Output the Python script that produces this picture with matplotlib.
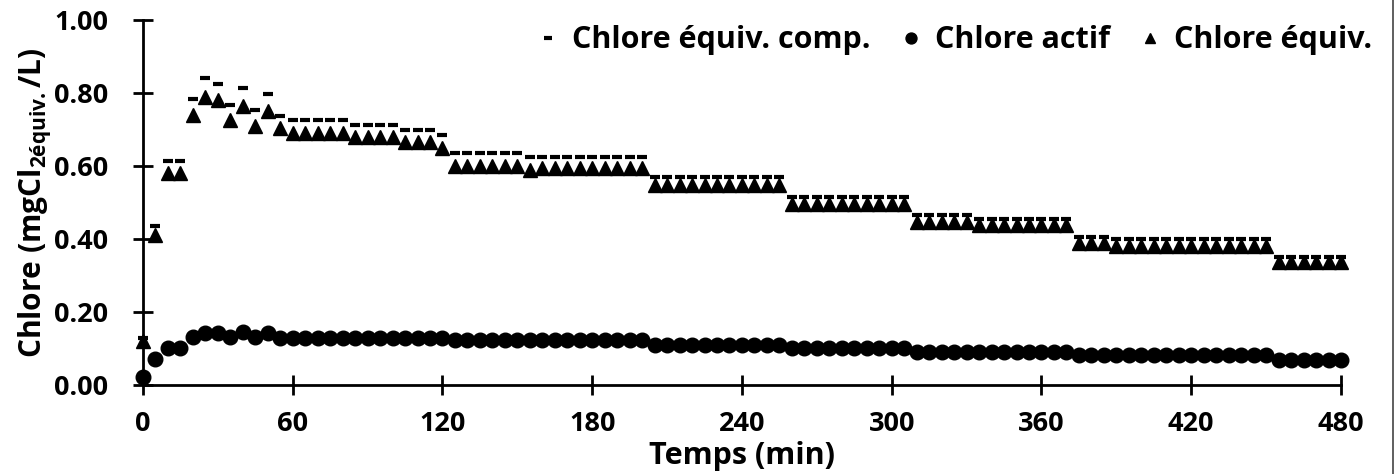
import matplotlib.pyplot as plt
from matplotlib.lines import Line2D

# temps de prélèvement (min)
temps = list(range(0, 481, 5))

chlore_equiv = [
    0.12, 0.41, 0.58, 0.58, 0.74, 0.79, 0.78, 0.725, 0.765, 0.71, 0.75, 0.705,
    0.69, 0.69, 0.69, 0.69, 0.69,
    0.68, 0.68, 0.68, 0.68,
    0.665, 0.665, 0.665,
    0.65,
    0.60, 0.60, 0.60, 0.60, 0.60, 0.60,
    0.59,
    0.595, 0.595, 0.595, 0.595, 0.595, 0.595, 0.595, 0.595, 0.595,
    0.548, 0.548, 0.548, 0.548, 0.548, 0.548, 0.548, 0.548, 0.548, 0.548, 0.548,
    0.497, 0.497, 0.497, 0.497, 0.497, 0.497, 0.497, 0.497, 0.497, 0.497,
    0.447, 0.447, 0.447, 0.447, 0.447,
    0.438, 0.438, 0.438, 0.438, 0.438, 0.438, 0.438, 0.438,
    0.39, 0.39, 0.39,
    0.382, 0.382, 0.382, 0.382, 0.382, 0.382, 0.382, 0.382, 0.382, 0.382, 0.382, 0.382, 0.382,
    0.338, 0.338, 0.338, 0.338, 0.338, 0.338,
]

chlore_equiv_comp = [
    0.13, 0.436, 0.614, 0.614, 0.783, 0.842, 0.826, 0.767, 0.813, 0.753, 0.796, 0.738,
    0.726, 0.726, 0.726, 0.726, 0.726,
    0.712, 0.712, 0.712, 0.712,
    0.699, 0.699, 0.699,
    0.686,
    0.635, 0.635, 0.635, 0.635, 0.635, 0.635,
    0.624,
    0.624, 0.624, 0.624, 0.624, 0.624, 0.624, 0.624, 0.624, 0.624,
    0.571, 0.571, 0.571, 0.571, 0.571, 0.571, 0.571, 0.571, 0.571, 0.571, 0.571,
    0.516, 0.516, 0.516, 0.516, 0.516, 0.516, 0.516, 0.516, 0.516, 0.516,
    0.466, 0.466, 0.466, 0.466, 0.466,
    0.456, 0.456, 0.456, 0.456, 0.456, 0.456, 0.456, 0.456,
    0.406, 0.406, 0.406,
    0.399, 0.399, 0.399, 0.399, 0.399, 0.399, 0.399, 0.399, 0.399, 0.399, 0.399, 0.399, 0.399,
    0.351, 0.351, 0.351, 0.351, 0.351, 0.351,
]

chlore_actif = [
    0.023, 0.07, 0.10, 0.10, 0.132, 0.142, 0.142, 0.132, 0.144, 0.132, 0.142,
    0.13, 0.13, 0.13, 0.13, 0.13, 0.13, 0.13, 0.13, 0.13, 0.13, 0.13, 0.13, 0.13, 0.13,
    0.122, 0.122, 0.122, 0.122, 0.122, 0.122, 0.122, 0.122,
    0.122, 0.122, 0.122, 0.122, 0.122, 0.122, 0.122, 0.122,
    0.11, 0.11, 0.11, 0.11, 0.11, 0.11, 0.11, 0.11, 0.11, 0.11, 0.11,
    0.10, 0.10, 0.10, 0.10, 0.10, 0.10, 0.10, 0.10, 0.10, 0.10,
    0.09, 0.09, 0.09, 0.09, 0.09, 0.09, 0.09, 0.09, 0.09, 0.09, 0.09, 0.09, 0.09,
    0.082, 0.082, 0.082, 0.082, 0.082, 0.082, 0.082, 0.082,
    0.082, 0.082, 0.082, 0.082, 0.082, 0.082, 0.082, 0.082,
    0.068, 0.068, 0.068, 0.068, 0.068, 0.068,
]

x_ticks = [0, 60, 120, 180, 240, 300, 360, 420, 480]
y_ticks = [0.0, 0.2, 0.4, 0.6, 0.8, 1.0]

plt.rcParams['font.family'] = ['Open Sans', 'DejaVu Sans']
plt.rcParams['font.weight'] = 'bold'
plt.rcParams['mathtext.fontset'] = 'custom'
plt.rcParams['mathtext.rm'] = 'Open Sans:bold'
plt.rcParams['mathtext.it'] = 'Open Sans:bold'
plt.rcParams['mathtext.bf'] = 'Open Sans:bold'

fig = plt.figure(figsize=(13.96, 4.74), dpi=100)
ax = fig.add_axes([0.1024, 0.1878, 0.8582, 0.77])

l_eq, = ax.plot(temps, chlore_equiv, ls='none', marker='^', ms=10.5, color='black',
                clip_on=False, zorder=3)
l_comp, = ax.plot(temps, chlore_equiv_comp, ls='none', marker='_', ms=7, mew=3,
                  color='black', clip_on=False, zorder=4)
l_act, = ax.plot(temps, chlore_actif, ls='none', marker='o', ms=10.5, color='black',
                 clip_on=False, zorder=3)

ax.set_xlim(0, 480)
ax.set_ylim(0, 1.0)
ax.set_xticks(x_ticks)
ax.set_yticks(y_ticks)
ax.set_yticklabels([f'{v:.2f}' for v in y_ticks])

for s in ['top', 'right']:
    ax.spines[s].set_visible(False)
for s in ['left', 'bottom']:
    ax.spines[s].set_linewidth(2)

ax.tick_params(direction='inout', length=14, width=2, labelsize=19.5)
ax.tick_params(axis='x', pad=12)
ax.tick_params(axis='y', pad=18)

ax.set_xlabel('Temps (min)', fontsize=22, fontweight='bold')
ax.xaxis.set_label_coords(0.5, -0.154)
ax.set_ylabel('Chlore (mgCl$_{\\mathrm{2équiv.}}$/L)', fontsize=21.5, fontweight='bold')
ax.yaxis.set_label_coords(-0.074, 0.5)

fig.legend([l_comp, l_act, l_eq],
           ['Chlore équiv. comp.', 'Chlore actif', 'Chlore équiv.'],
           loc='center right', bbox_to_anchor=(0.983, 0.915), ncol=3,
           frameon=False, fontsize=22, markerscale=0.75, handlelength=0.6,
           handletextpad=0.5, columnspacing=1.0, borderpad=0, borderaxespad=0)

# trait du cadre à droite de l'image
fig.add_artist(Line2D([0.9975, 0.9975], [0, 1], transform=fig.transFigure,
                      color='#444444', lw=1.2))

fig.savefig('out.png', dpi=100)
